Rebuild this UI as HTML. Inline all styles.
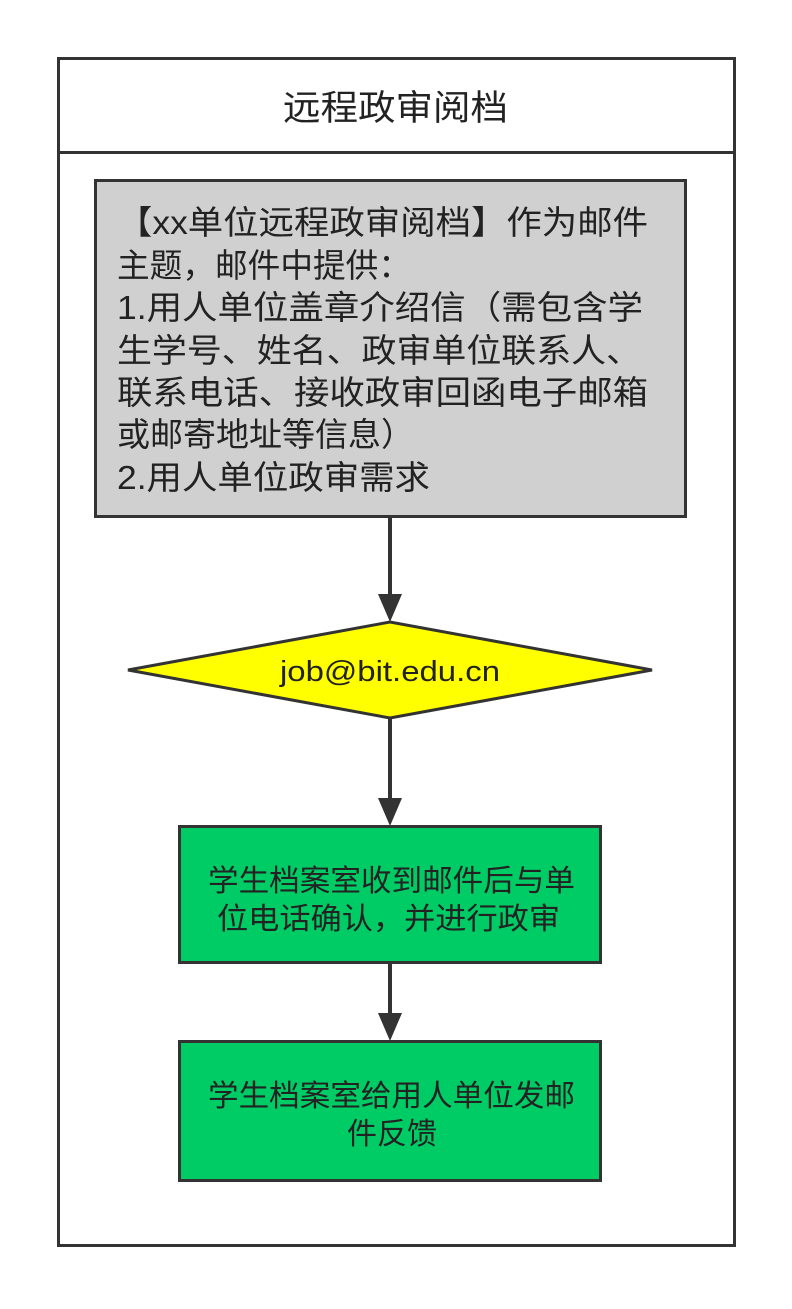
<!DOCTYPE html>
<html><head><meta charset="utf-8"><style>
html,body{margin:0;padding:0;background:#fff;}
text{font-family:"Liberation Sans","Noto Sans CJK SC",sans-serif;fill:#222;}
</style></head><body>
<svg width="792" height="1304" viewBox="0 0 792 1304" xmlns="http://www.w3.org/2000/svg">
<rect x="58.5" y="58.5" width="676" height="1187" fill="#fff" stroke="#333" stroke-width="3"/>
<line x1="58" y1="152.5" x2="734" y2="152.5" stroke="#333" stroke-width="3"/>
<text x="283" y="120" font-size="35" textLength="225" lengthAdjust="spacingAndGlyphs">远程政审阅档</text>
<rect x="95.5" y="180.5" width="590" height="336" fill="#d0d0d0" stroke="#333" stroke-width="3"/>
<g font-size="33" lengthAdjust="spacingAndGlyphs">
<text x="117" y="234" textLength="531" lengthAdjust="spacingAndGlyphs">【xx单位远程政审阅档】作为邮件</text>
<text x="117" y="277" textLength="294" lengthAdjust="spacingAndGlyphs">主题，邮件中提供：</text>
<text x="117" y="319" textLength="526" lengthAdjust="spacingAndGlyphs">1.用人单位盖章介绍信（需包含学</text>
<text x="117" y="362" textLength="524" lengthAdjust="spacingAndGlyphs">生学号、姓名、政审单位联系人、</text>
<text x="117" y="404" textLength="531" lengthAdjust="spacingAndGlyphs">联系电话、接收政审回函电子邮箱</text>
<text x="117" y="446" textLength="297" lengthAdjust="spacingAndGlyphs">或邮寄地址等信息）</text>
<text x="117" y="489" textLength="313" lengthAdjust="spacingAndGlyphs">2.用人单位政审需求</text>
</g>
<line x1="390" y1="517" x2="390" y2="596" stroke="#333" stroke-width="4"/>
<polygon points="378,594 402,594 390,622" fill="#333"/>
<polygon points="128,670 390,622 652,670 390,718" fill="#ffff00" stroke="#333" stroke-width="3"/>
<text x="280" y="681" font-size="29" textLength="220" lengthAdjust="spacingAndGlyphs">job@bit.edu.cn</text>
<line x1="390" y1="718" x2="390" y2="800" stroke="#333" stroke-width="4"/>
<polygon points="378,798 402,798 390,826" fill="#333"/>
<rect x="179.5" y="826.5" width="421" height="136" fill="#00cc66" stroke="#333" stroke-width="3"/>
<g font-size="30">
<text x="208" y="891" textLength="367" lengthAdjust="spacingAndGlyphs">学生档案室收到邮件后与单</text>
<text x="217" y="929" textLength="343" lengthAdjust="spacingAndGlyphs">位电话确认，并进行政审</text>
<text x="208" y="1106" textLength="367" lengthAdjust="spacingAndGlyphs">学生档案室给用人单位发邮</text>
<text x="347" y="1144" textLength="90" lengthAdjust="spacingAndGlyphs">件反馈</text>
</g>
<line x1="390" y1="963" x2="390" y2="1015" stroke="#333" stroke-width="4"/>
<polygon points="378,1013 402,1013 390,1041" fill="#333"/>
<rect x="179.5" y="1041.5" width="421" height="139" fill="#00cc66" stroke="#333" stroke-width="3"/>
<g font-size="30">
<text x="208" y="1106" textLength="367" lengthAdjust="spacingAndGlyphs">学生档案室给用人单位发邮</text>
<text x="347" y="1144" textLength="90" lengthAdjust="spacingAndGlyphs">件反馈</text>
</g>
</svg>
</body></html>
